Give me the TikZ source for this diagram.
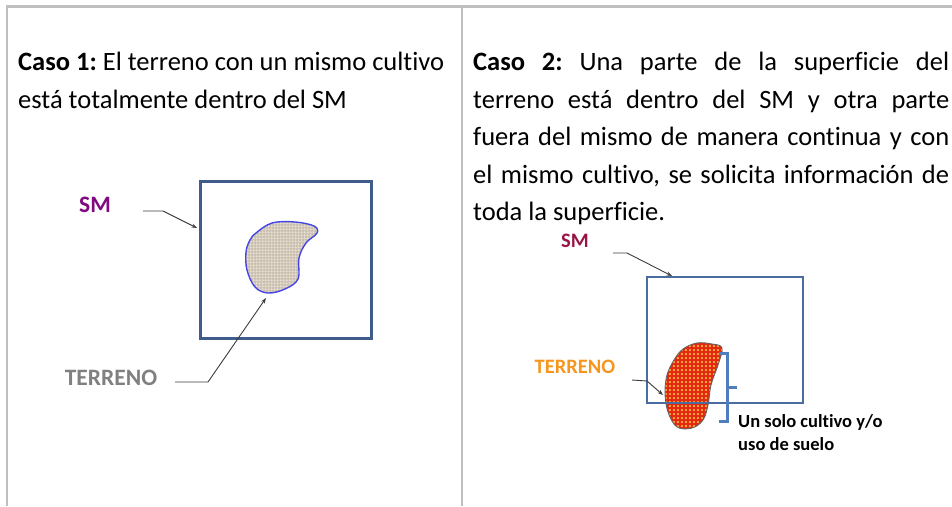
\documentclass[tikz,border=0pt]{standalone}
\usepackage{fontspec}
\setmainfont{Carlito}[Ligatures={NoCommon}]
\usetikzlibrary{arrows.meta,patterns,patterns.meta}
\frenchspacing
\definecolor{tablegray}{RGB}{191,191,191}
\definecolor{boxblue}{RGB}{62,92,140}
\definecolor{boxblue2}{RGB}{74,108,160}
\definecolor{blobblue}{RGB}{70,70,230}
\definecolor{smpurple}{RGB}{128,10,128}
\definecolor{smcrimson}{RGB}{150,20,70}
\definecolor{terrgray}{RGB}{128,128,128}
\definecolor{terrorange}{RGB}{247,150,30}
\definecolor{linen}{RGB}{204,193,176}
\definecolor{linenlight}{RGB}{234,228,216}
\definecolor{blobred}{RGB}{228,40,16}
\definecolor{dotyellow}{RGB}{246,200,70}
\definecolor{bracketblue}{RGB}{80,125,190}
\definecolor{arrowgray}{RGB}{60,60,60}
\tikzdeclarepattern{name=ydots, type=uncolored,
  bottom left={(0pt,0pt)}, top right={(4.4pt,4.4pt)}, tile size={(4.4pt,4.4pt)},
  code={\fill (2.2pt,2.2pt) circle (1.35pt);}}
\tikzdeclarepattern{name=linengrid, type=uncolored,
  bottom left={(0pt,0pt)}, top right={(2.6pt,2.6pt)}, tile size={(2.6pt,2.6pt)},
  code={\fill (0pt,0pt) rectangle (2.6pt,0.6pt); \fill (0pt,0pt) rectangle (0.6pt,2.6pt);}}
\tikzset{
  bodytext/.style={anchor=base west, inner sep=0pt, font=\fontsize{26.5}{37.5}\selectfont},
  lbl/.style={inner sep=0pt, font=\bfseries\fontsize{23.5}{28}\selectfont},
  lblsmall/.style={inner sep=0pt, font=\bfseries\fontsize{20.5}{24}\selectfont},
  pointer/.style={draw=arrowgray, line width=0.9pt, -{Stealth[length=5.5pt,width=4pt]}},
  gridline/.style={draw=tablegray, line width=2.5pt},
}
\begin{document}
\begin{tikzpicture}[x=1pt,y=-1pt]
\useasboundingbox (0,0) rectangle (952,506);
% table lines
\draw[gridline] (7,6.5) -- (952,6.5);
\draw[gridline] (7,5.25) -- (7,506);
\draw[gridline] (462,6.5) -- (462,506);

% left column text
\node[bodytext] (l1) at (18,70.5) {\textbf{Caso 1:} El terreno con un mismo cultivo};
\node[bodytext] (l2) at (18,108) {está totalmente dentro del SM};

% right column text
\node[bodytext] (r1) at (473,70.5) {\makebox[476pt][s]{\textbf{Caso 2:} Una parte de la superficie del}};
\node[bodytext] (r2) at (473,108) {\makebox[476pt][s]{terreno está dentro del SM y otra parte}};
\node[bodytext] (r3) at (473,145.5) {\makebox[476pt][s]{fuera del mismo de manera continua y con}};
\node[bodytext] (r4) at (473,183) {\makebox[476pt][s]{el mismo cultivo, se solicita información de}};
\node[bodytext] (r5) at (473,220.5) {toda la superficie.};

% ---- Case 1 drawing ----
\fill[linen, postaction={pattern=linengrid, pattern color=linenlight}]
  plot[smooth cycle, tension=0.6] coordinates {(256,233) (272,223) (295,222) (314,226) (317,233) (306,243) (299,258) (298,279) (285,289) (268,293) (255,287) (247,270) (246,252) (250,240)};
\draw[blobblue, line width=1.4pt]
  plot[smooth cycle, tension=0.6] coordinates {(256,233) (272,223) (295,222) (314,226) (317,233) (306,243) (299,258) (298,279) (285,289) (268,293) (255,287) (247,270) (246,252) (250,240)};
\node[draw=boxblue, line width=3pt, minimum width=171pt, minimum height=157pt, inner sep=0pt] (boxL) at (285.5,259.5) {};
\node[lbl, text=smpurple] (smL) at (95,205) {SM};
\node[lbl, text=terrgray] (terrL) at (111,378) {TERRENO};
\coordinate (smLtip) at (197,228);
\coordinate (terrLtip) at (266,298);
\draw[pointer] (143,211) coordinate (smLs) -- (163,211) -- (smLtip);
\draw[pointer] (175,382) coordinate (terrLs) -- (208,382) -- (terrLtip);

% ---- Case 2 drawing ----
\fill[blobred, postaction={pattern=ydots, pattern color=dotyellow}]
  plot[smooth cycle, tension=0.6] coordinates {(674,360) (683,349) (697,343) (712,344) (722,348) (718,365) (711,385) (708,405) (703,420) (692,428) (677,427) (668,412) (665,393) (667,375)};
\draw[arrowgray!80, line width=0.9pt]
  plot[smooth cycle, tension=0.6] coordinates {(674,360) (683,349) (697,343) (712,344) (722,348) (718,365) (711,385) (708,405) (703,420) (692,428) (677,427) (668,412) (665,393) (667,375)};
\node[draw=boxblue2, line width=2.4pt, minimum width=156pt, minimum height=126pt, inner sep=0pt] (boxR) at (725,340) {};
\node[lblsmall, text=smcrimson] (smR) at (575,241) {SM};
\node[lblsmall, text=terrorange] (terrR) at (575,367) {TERRENO};
\coordinate (smRtip) at (672,276);
\coordinate (terrRtip) at (663,395);
\draw[pointer] (613,253) coordinate (smRs) -- (627,253) -- (smRtip);
\draw[pointer] (632,380) coordinate (terrRs) -- (647,381) -- (terrRtip);
% bracket
\draw[draw=bracketblue, line width=3pt] (719,353) -- (727,353) -- (727,421) -- (719,421);
\draw[draw=bracketblue, line width=3pt] (727,387) -- (737,387);
\node[anchor=base west, inner sep=0pt, font=\bfseries\fontsize{18.5}{23}\selectfont] (cult1) at (738,427) {Un solo cultivo y/o};
\node[anchor=base west, inner sep=0pt, font=\bfseries\fontsize{18.5}{23}\selectfont] (cult2) at (738,450) {uso de suelo};
\end{tikzpicture}
\end{document}
